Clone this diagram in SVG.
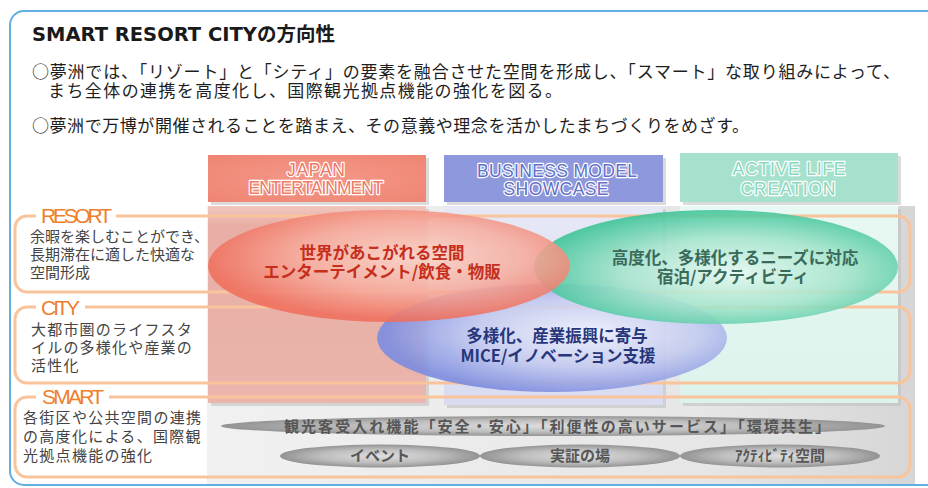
<svg xmlns="http://www.w3.org/2000/svg" width="928" height="488" viewBox="0 0 928 488">
<defs>
<style>
.jp{font-family:'Noto Sans CJK JP','Noto Sans CJK SC',sans-serif}
.body{font-size:17px;fill:#1e1e1e}
.row{font-size:15px;fill:#444}
.lbl{font-family:'Liberation Sans','Noto Sans',sans-serif;font-size:21px;fill:#f07f2c}
.hd{font-family:'Liberation Sans',Arial,sans-serif;font-size:17.5px;stroke:#fff;stroke-width:2.4;paint-order:stroke fill;text-anchor:middle;stroke-linejoin:round}
.rowbox{fill:none;stroke:#f9c39b;stroke-width:3}
.ell{font-size:16.5px;font-weight:bold;text-anchor:middle}
.bar{font-size:15px;font-weight:bold;fill:#565656;text-anchor:middle}
.shadow{fill:#bdbdbd;opacity:.55}
</style>
<linearGradient id="gPanel" x1="0" y1="0" x2="1" y2="0">
<stop offset="0" stop-color="#f1f1f1"/><stop offset="0.7" stop-color="#e6e6e6"/><stop offset="1" stop-color="#d6d6d6"/>
</linearGradient>
<linearGradient id="gColL" x1="0" y1="0" x2="0" y2="1">
<stop offset="0" stop-color="#f0c6be"/><stop offset="0.1" stop-color="#e8aea5"/><stop offset="1" stop-color="#eab5ac"/>
</linearGradient>
<linearGradient id="gColM" x1="0" y1="0" x2="0" y2="1">
<stop offset="0" stop-color="#e6e8f6"/><stop offset="1" stop-color="#d9dcf1"/>
</linearGradient>
<linearGradient id="gColR" x1="0" y1="0" x2="0" y2="1">
<stop offset="0" stop-color="#e8f8f3"/><stop offset="1" stop-color="#dcf3ec"/>
</linearGradient>
<radialGradient id="gRed" cx="0.56" cy="0.42" r="0.56">
<stop offset="0" stop-color="#fbd6cc"/><stop offset="0.55" stop-color="#f6ad9f"/><stop offset="1" stop-color="#ef6f5d"/>
</radialGradient>
<radialGradient id="gGreen" cx="0.55" cy="0.55" r="0.56">
<stop offset="0" stop-color="#e4f8f0"/><stop offset="0.55" stop-color="#a4e4cc"/><stop offset="1" stop-color="#3cc497"/>
</radialGradient>
<radialGradient id="gBlue" cx="0.6" cy="0.45" r="0.58">
<stop offset="0" stop-color="#f0f2fc"/><stop offset="0.55" stop-color="#c4caef"/><stop offset="1" stop-color="#7c8cdf"/>
</radialGradient>
<radialGradient id="gBar" cx="0.5" cy="0.5" r="0.5">
<stop offset="0" stop-color="#dedede"/><stop offset="0.6" stop-color="#bdbdbd"/><stop offset="1" stop-color="#939393"/>
</radialGradient>
<radialGradient id="gHdL" cx="0.5" cy="0.5" r="0.7">
<stop offset="0" stop-color="#f4988a"/><stop offset="1" stop-color="#ef8572"/>
</radialGradient>
</defs>

<rect width="928" height="488" fill="#fff"/>

<g id="frame">
<rect x="10" y="11" width="940" height="474" rx="14" fill="none" stroke="#62aee0" stroke-width="2"/>
</g>

<g id="intro" class="jp">
<text x="32" y="41" font-size="19.5" font-weight="bold" fill="#1a1a1a"><tspan font-family="'DejaVu Sans',Verdana,sans-serif" font-size="19.5">SMART RESORT CITY</tspan>の方向性</text>
<text class="body" x="32" y="78" textLength="868">○夢洲では、「リゾート」と「シティ」の要素を融合させた空間を形成し、「スマート」な取り組みによって、</text>
<text class="body" x="48" y="97" textLength="514">まち全体の連携を高度化し、国際観光拠点機能の強化を図る。</text>
<text class="body" x="32" y="132" textLength="717">○夢洲で万博が開催されることを踏まえ、その意義や理念を活かしたまちづくりをめざす。</text>
</g>

<g id="panel">
<rect x="207" y="206" width="708" height="278" fill="url(#gPanel)"/>
<rect class="shadow" x="211" y="209" width="218" height="197"/>
<rect class="shadow" x="447" y="209" width="219" height="199"/>
<rect class="shadow" x="683" y="209" width="218" height="197"/>
<rect x="208" y="206" width="218" height="197" fill="url(#gColL)"/>
<rect x="444" y="206" width="219" height="199" fill="url(#gColM)"/>
<rect x="680" y="206" width="218" height="197" fill="url(#gColR)"/>
</g>

<g id="header-japan">
<rect class="shadow" x="211" y="158" width="218" height="47"/>
<rect x="208" y="155" width="218" height="47" fill="url(#gHdL)"/>
<text class="hd" x="316" y="176" fill="#ee7a66" textLength="58">JAPAN</text>
<text class="hd" x="316" y="194" fill="#ee7a66" textLength="135">ENTERTAINMENT</text>
</g>
<g id="header-business">
<rect class="shadow" x="447" y="158" width="219" height="47"/>
<rect x="444" y="155" width="219" height="47" fill="#8e98dc"/>
<text class="hd" x="557" y="177" fill="#6470c8" textLength="160">BUSINESS MODEL</text>
<text class="hd" x="556" y="195" fill="#6470c8" textLength="105">SHOWCASE</text>
</g>
<g id="header-active">
<rect class="shadow" x="683" y="156" width="218" height="49"/>
<rect x="680" y="153" width="218" height="49" fill="#a6e1cd"/>
<text class="hd" x="789" y="175" fill="#8bd7be" textLength="113">ACTIVE LIFE</text>
<text class="hd" x="788" y="195" fill="#8bd7be" textLength="95">CREATION</text>
</g>

<g id="row-resort">
<rect class="rowbox" x="15" y="216" width="895" height="76" rx="12"/>
<rect x="36" y="212" width="80" height="8" fill="#fff"/>
<text class="lbl" x="41" y="223" textLength="71">RESORT</text>
<g class="jp row">
<text x="30" y="242">余暇を楽しむことができ、</text>
<text x="30" y="260">長期滞在に適した快適な</text>
<text x="30" y="278">空間形成</text>
</g>
</g>
<g id="row-city">
<rect class="rowbox" x="15" y="307" width="895" height="76" rx="12"/>
<rect x="36" y="303" width="49" height="8" fill="#fff"/>
<text class="lbl" x="41" y="315" textLength="39">CITY</text>
<g class="jp row" letter-spacing="1.2">
<text x="31" y="335">大都市圏のライフスタ</text>
<text x="31" y="353">イルの多様化や産業の</text>
<text x="31" y="371">活性化</text>
</g>
</g>
<g id="row-smart">
<rect class="rowbox" x="15" y="397" width="895" height="80" rx="12"/>
<rect x="36" y="393" width="73" height="8" fill="#fff"/>
<text class="lbl" x="42" y="404" textLength="62">SMART</text>
<g class="jp row" letter-spacing="1.3">
<text x="23" y="423">各街区や公共空間の連携</text>
<text x="23" y="442">の高度化による、国際観</text>
<text x="23" y="461">光拠点機能の強化</text>
</g>
</g>

<g id="ellipse-mice">
<ellipse cx="552" cy="338" rx="175" ry="54" fill="url(#gBlue)" opacity="0.9"/>
</g>
<g id="ellipse-active">
<ellipse cx="716" cy="267" rx="182" ry="57" fill="url(#gGreen)" opacity="0.88"/>
</g>
<g id="ellipse-ent">
<ellipse cx="389" cy="266" rx="181" ry="56" fill="url(#gRed)" opacity="0.88"/>
</g>

<g class="jp">
<text class="ell" x="382" y="259" fill="#c62f1c">世界があこがれる空間</text>
<text class="ell" x="382" y="278" fill="#c62f1c">エンターテイメント/飲食・物販</text>
<text class="ell" x="735" y="264" fill="#3a6a5a">高度化、多様化するニーズに対応</text>
<text class="ell" x="733" y="283" fill="#3a6a5a">宿泊/アクティビティ</text>
<text class="ell" x="557" y="342" fill="#27367a">多様化、産業振興に寄与</text>
<text class="ell" x="558" y="362" fill="#27367a">MICE/イノベーション支援</text>
</g>

<g id="bar-main">
<ellipse cx="553" cy="426" rx="332" ry="10" fill="url(#gBar)"/>
<text class="jp bar" x="557" y="432" textLength="546">観光客受入れ機能「安全・安心」「利便性の高いサービス」「環境共生」</text>
</g>
<g id="bar-event">
<ellipse cx="380" cy="456" rx="100" ry="11.5" fill="url(#gBar)"/>
<text class="jp bar" x="380" y="461">イベント</text>
</g>
<g id="bar-demo">
<ellipse cx="580" cy="456" rx="100" ry="11.5" fill="url(#gBar)"/>
<text class="jp bar" x="580" y="461">実証の場</text>
</g>
<g id="bar-activity">
<ellipse cx="780" cy="456" rx="100" ry="11.5" fill="url(#gBar)"/>
<text class="jp bar" x="780" y="461">ｱｸﾃｨﾋﾞﾃｨ空間</text>
</g>
</svg>
